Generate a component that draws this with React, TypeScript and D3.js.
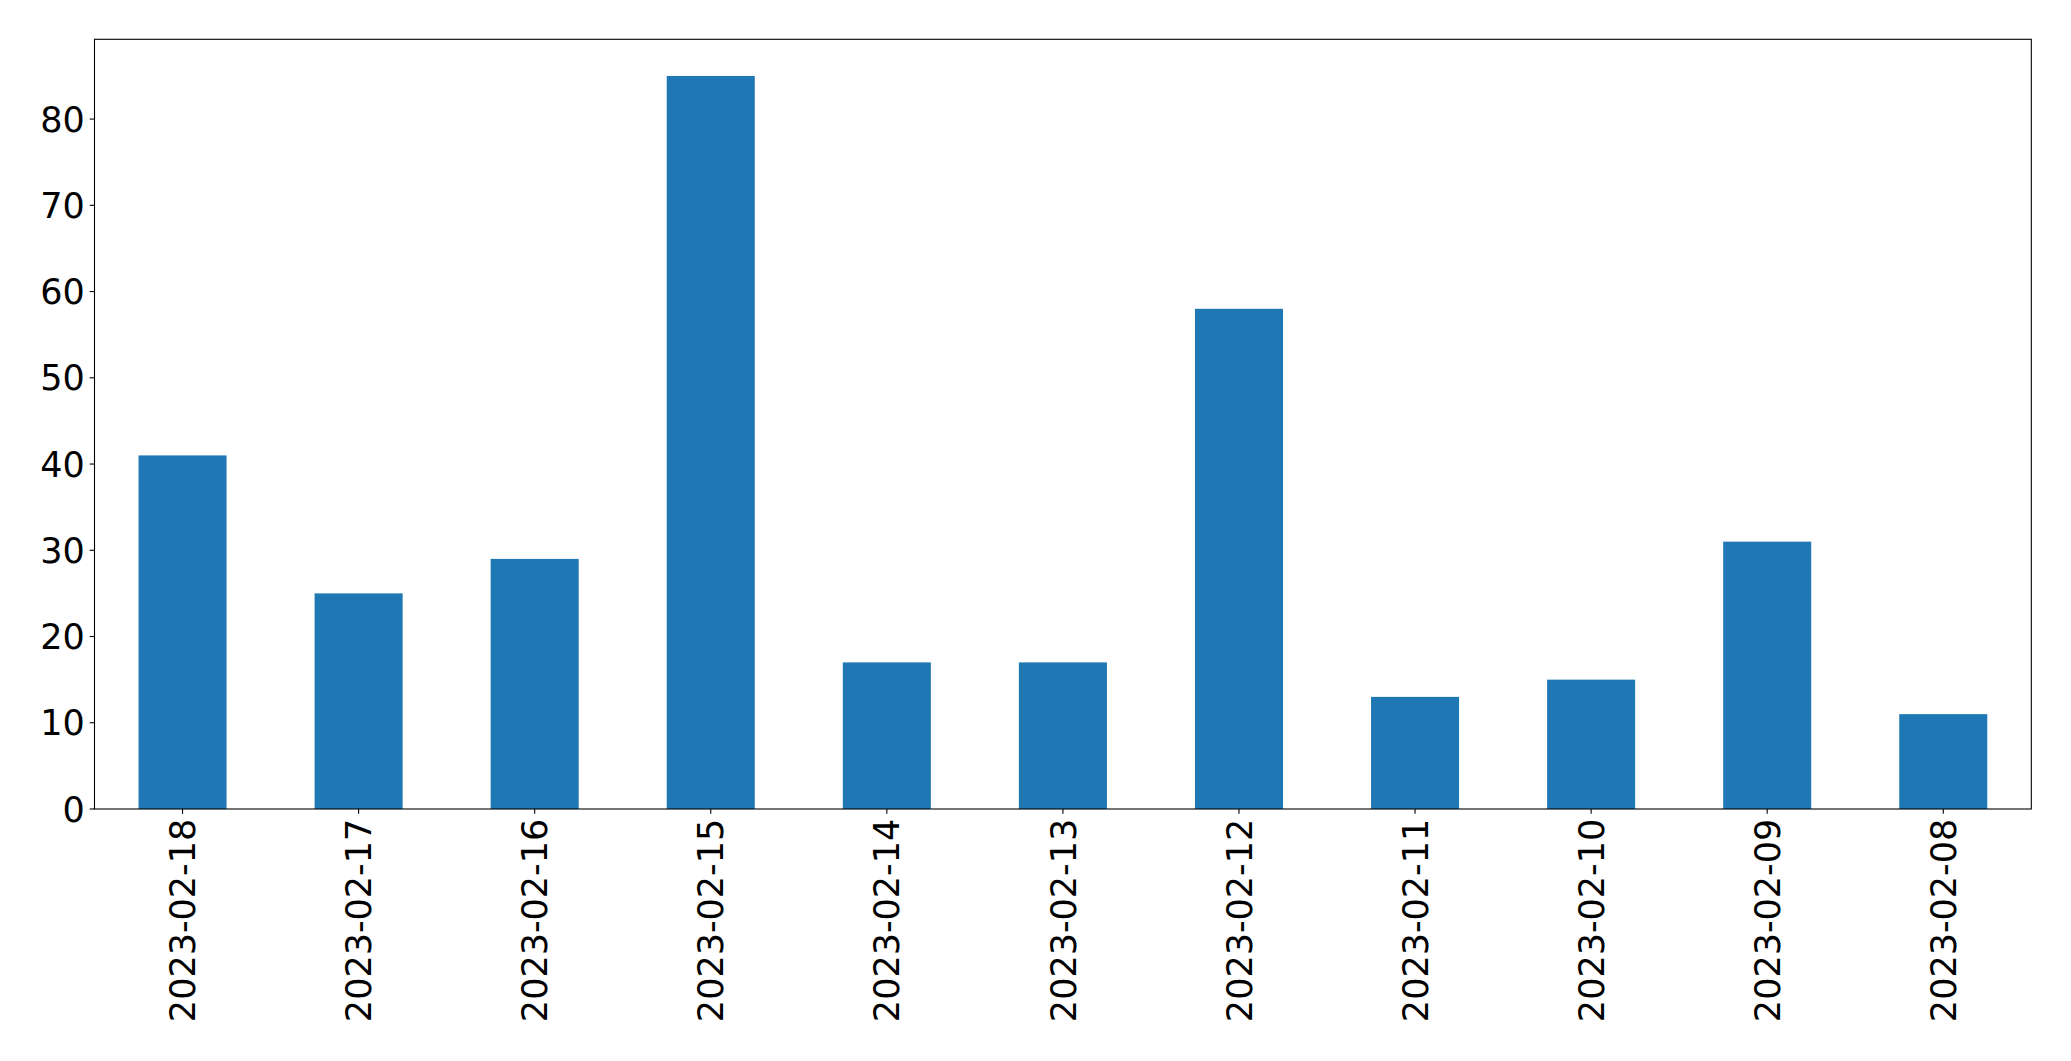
import React from "react";
import * as d3 from "d3";

const categories = ["2023-02-18","2023-02-17","2023-02-16","2023-02-15","2023-02-14","2023-02-13","2023-02-12","2023-02-11","2023-02-10","2023-02-09","2023-02-08"];
const values = [41, 25, 29, 85, 17, 17, 58, 13, 15, 31, 11];
const yTicks = [0, 10, 20, 30, 40, 50, 60, 70, 80];

const W = 2071, H = 1061;
const L = 94.5, R = 2031.3, T = 39.3, B = 809;
const FS = 35;

export default function App() {
  const x = d3.scaleBand<string>().domain(categories).range([L, R]).paddingInner(0.5).paddingOuter(0.25);
  const y = d3.scaleLinear().domain([0, d3.max(values)! * 1.05]).range([B, T]);
  const tick = 4.86;
  const pad = 4.86;
  return (
    <svg width={W} height={H} style={{ position: "absolute", left: 0, top: 0, background: "#fff" }} fontFamily="DejaVu Sans">
      <rect x={0} y={0} width={W} height={H} fill="#fff" />
      {categories.map((c, i) => (
        <rect key={c} x={x(c)} y={y(values[i])} width={x.bandwidth()} height={B - y(values[i])} fill="#1f77b4" />
      ))}
      <rect x={L} y={T} width={R - L} height={B - T} fill="none" stroke="#000" strokeWidth={1.1} />
      {yTicks.map(t => (
        <g key={t}>
          <line x1={L - tick} x2={L} y1={y(t)} y2={y(t)} stroke="#000" strokeWidth={1.1} />
          <text x={L - tick - pad} y={y(t)} dy="0.36em" textAnchor="end" fontSize={FS} fill="#000">{t}</text>
        </g>
      ))}
      {categories.map(c => {
        const cx = x(c)! + x.bandwidth() / 2;
        return (
          <g key={c}>
            <line x1={cx} x2={cx} y1={B} y2={B + tick} stroke="#000" strokeWidth={1.1} />
            <text transform={`translate(${cx},${B + tick + pad}) rotate(-90)`} dy="0.36em" textAnchor="end" fontSize={FS} fill="#000">{c}</text>
          </g>
        );
      })}
    </svg>
  );
}
